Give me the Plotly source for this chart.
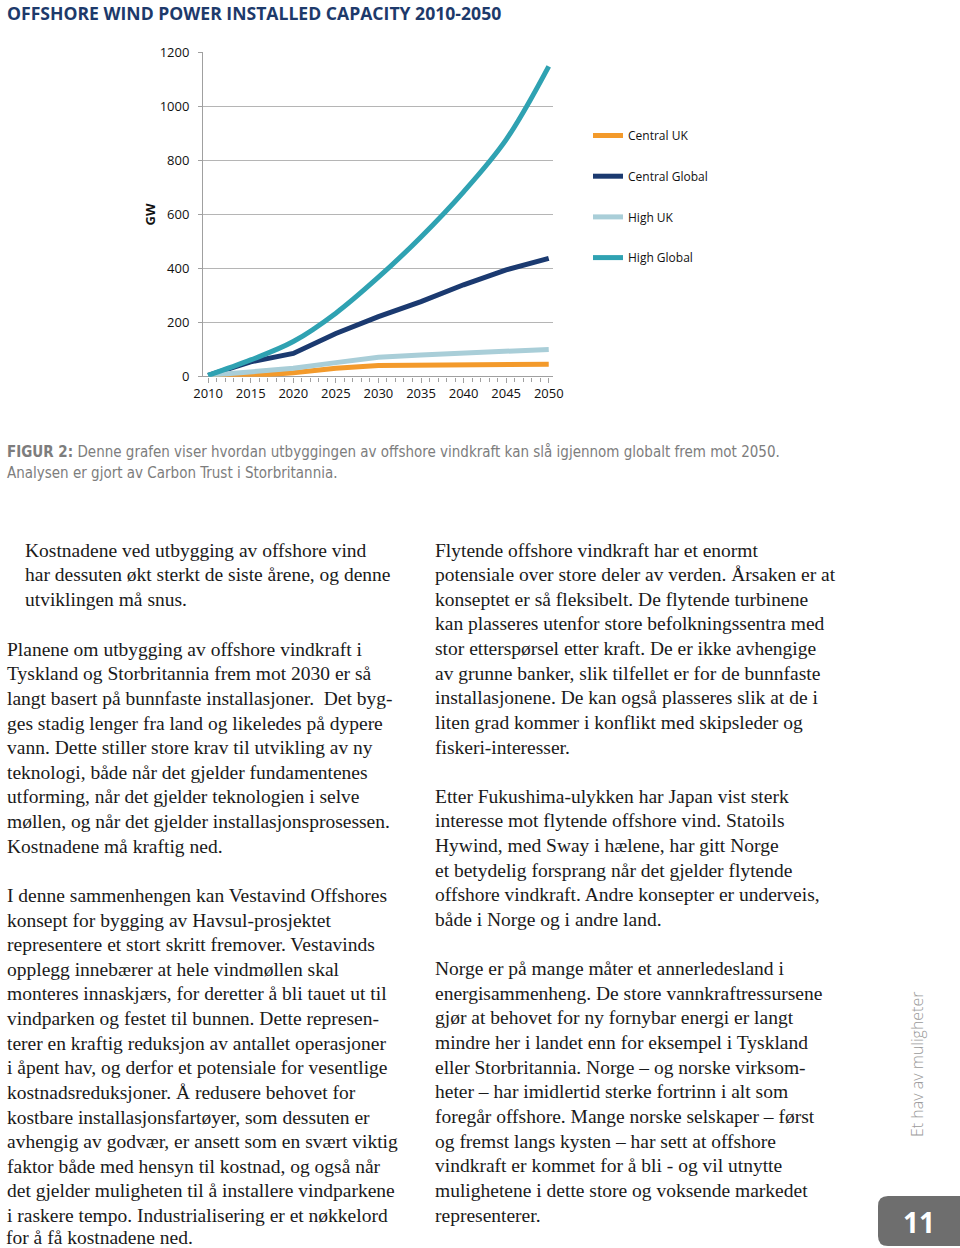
import plotly.graph_objects as go

W, H = 960, 1248

# chart data (GW)
years = [2010, 2015, 2020, 2025, 2030, 2035, 2040, 2045, 2050]
central_uk = [0, 3, 15, 31, 41, 42, 43, 45, 46]
central_global = [5, 55, 86, 160, 222, 278, 340, 395, 438]
high_uk = [5, 18, 31, 52, 72, 80, 86, 93, 101]
high_global = [5, 62, 130, 235, 368, 517, 684, 877, 1148]

series_names = ["Central UK", "Central Global", "High UK", "High Global"]
series_colors = ["#f39a2b", "#1b3a70", "#a9ced8", "#2fa2b2"]
series_values = [central_uk, central_global, high_uk, high_global]

title_text = "OFFSHORE WIND POWER INSTALLED CAPACITY 2010-2050"
caption_lines = [
    "<b>FIGUR 2:</b> Denne grafen viser hvordan utbyggingen av offshore vindkraft "
    "kan slå igjennom globalt frem mot 2050.",
    "Analysen er gjort av Carbon Trust i Storbritannia.",
]

left_par1 = [
    "Kostnadene ved utbygging av offshore vind",
    "har dessuten økt sterkt de siste årene, og denne",
    "utviklingen må snus.",
]
left_rest = [
    "",
    "Planene om utbygging av offshore vindkraft i",
    "Tyskland og Storbritannia frem mot 2030 er så",
    "langt basert på bunnfaste installasjoner.  Det byg-",
    "ges stadig lenger fra land og likeledes på dypere",
    "vann. Dette stiller store krav til utvikling av ny",
    "teknologi, både når det gjelder fundamentenes",
    "utforming, når det gjelder teknologien i selve",
    "møllen, og når det gjelder installasjonsprosessen.",
    "Kostnadene må kraftig ned.",
    "",
    "I denne sammenhengen kan Vestavind Offshores",
    "konsept for bygging av Havsul-prosjektet",
    "representere et stort skritt fremover. Vestavinds",
    "opplegg innebærer at hele vindmøllen skal",
    "monteres innaskjærs, for deretter å bli tauet ut til",
    "vindparken og festet til bunnen. Dette represen-",
    "terer en kraftig reduksjon av antallet operasjoner",
    "i åpent hav, og derfor et potensiale for vesentlige",
    "kostnadsreduksjoner. Å redusere behovet for",
    "kostbare installasjonsfartøyer, som dessuten er",
    "avhengig av godvær, er ansett som en svært viktig",
    "faktor både med hensyn til kostnad, og også når",
    "det gjelder muligheten til å installere vindparkene",
    "i raskere tempo. Industrialisering er et nøkkelord",
    "for å få kostnadene ned.",
]
right_col = [
    "Flytende offshore vindkraft har et enormt",
    "potensiale over store deler av verden. Årsaken er at",
    "konseptet er så fleksibelt. De flytende turbinene",
    "kan plasseres utenfor store befolkningssentra med",
    "stor etterspørsel etter kraft. De er ikke avhengige",
    "av grunne banker, slik tilfellet er for de bunnfaste",
    "installasjonene. De kan også plasseres slik at de i",
    "liten grad kommer i konflikt med skipsleder og",
    "fiskeri-interesser.",
    "",
    "Etter Fukushima-ulykken har Japan vist sterk",
    "interesse mot flytende offshore vind. Statoils",
    "Hywind, med Sway i hælene, har gitt Norge",
    "et betydelig forsprang når det gjelder flytende",
    "offshore vindkraft. Andre konsepter er underveis,",
    "både i Norge og i andre land.",
    "",
    "Norge er på mange måter et annerledesland i",
    "energisammenheng. De store vannkraftressursene",
    "gjør at behovet for ny fornybar energi er langt",
    "mindre her i landet enn for eksempel i Tyskland",
    "eller Storbritannia. Norge – og norske virksom-",
    "heter – har imidlertid sterke fortrinn i alt som",
    "foregår offshore. Mange norske selskaper – først",
    "og fremst langs kysten – har sett at offshore",
    "vindkraft er kommet for å bli - og vil utnytte",
    "mulighetene i dette store og voksende markedet",
    "representerer.",
]


def px(x):
    return x / W


def py(y):
    return 1 - y / H


fig = go.Figure()
for i in range(len(series_names)):
    fig.add_trace(go.Scatter(
        x=years, y=series_values[i], mode="lines", name=series_names[i],
        legendgroup=series_names[i],
        line=dict(color=series_colors[i], width=5,
                  shape="spline" if series_names[i] == "High Global" else "linear"),
    ))

axis_font = dict(family="Open Sans, Arial, sans-serif", size=13, color="#111111")
serif = dict(family="Liberation Serif, Times New Roman, serif", size=19.5, color="#1a1a1a")

fig.update_layout(
    width=W, height=H,
    margin=dict(l=0, r=0, t=0, b=0, autoexpand=False),
    paper_bgcolor="white", plot_bgcolor="white",
    showlegend=True,
    legend=dict(x=px(588), y=py(121), xanchor="left", yanchor="top",
                font=dict(family="Open Sans, Arial, sans-serif", size=12, color="#111111"),
                tracegroupgap=21.7, itemwidth=30, bgcolor="rgba(0,0,0,0)"),
    xaxis=dict(domain=[px(203), px(553)], range=[2009.4, 2050.5],
               tickvals=years, ticks="outside", ticklen=5, tickcolor="#a0a0a0",
               minor=dict(dtick=1, ticks="outside", ticklen=4, tickcolor="#a0a0a0"),
               showgrid=False, zeroline=False, showline=False,
               tickfont=axis_font, automargin=False),
    yaxis=dict(domain=[py(376.7), py(52.3)], range=[0, 1200], dtick=200,
               ticks="outside", ticklen=4, tickcolor="#a0a0a0",
               showgrid=True, gridcolor="#b5b5b5", gridwidth=1,
               zeroline=True, zerolinecolor="#a0a0a0", zerolinewidth=1,
               showline=True, linecolor="#a0a0a0", linewidth=1,
               tickfont=axis_font, ticklabelstandoff=6, automargin=False,
               title=dict(text="<b>GW</b>", font=axis_font, standoff=1)),
)

ann = []
ann.append(dict(text="<b>" + title_text + "</b>", x=px(6), y=py(0), xanchor="left", yanchor="top",
                borderpad=0,
                font=dict(family="Open Sans, Arial, sans-serif", size=17.6, color="#1d3a6b")))
cap_font = dict(family="Liberation Sans Narrow, DejaVu Sans Condensed, Roboto Condensed, sans-serif",
                size=15, color="#7d7d7d")
for i, line in enumerate(caption_lines):
    ann.append(dict(text=line, x=px(5), y=py(452 + 21 * i), xanchor="left", yanchor="middle",
                    font=cap_font))

line_step = 24.63
for i, line in enumerate(left_par1):
    ann.append(dict(text=line, x=px(23), y=py(550 + line_step * i), xanchor="left", yanchor="middle",
                    font=serif))
for i, line in enumerate(left_rest):
    if line:
        ann.append(dict(text=line, x=px(5), y=py(624.5 + line_step * i), xanchor="left",
                        yanchor="middle", font=serif))
# last line sits on the page edge: tighten its box so it stays inside
ann[-1].update(y=py(1237), borderpad=0)
for i, line in enumerate(right_col):
    if line:
        ann.append(dict(text=line, x=px(433), y=py(550 + line_step * i), xanchor="left",
                        yanchor="middle", font=serif))

ann.append(dict(text="Et hav av muligheter", x=px(917), y=py(1065), textangle=-90,
                xanchor="center", yanchor="middle",
                font=dict(family="Open Sans, Arial, sans-serif", size=16, color="#9a9a9a", weight=300)))
ann.append(dict(text="<b>11</b>", x=px(919), y=py(1222), xanchor="center", yanchor="middle",
                font=dict(family="Open Sans, Arial, sans-serif", size=28, color="white")))
for a in ann:
    a.update(xref="paper", yref="paper", showarrow=False)
fig.update_layout(annotations=ann)

# page number tab
x0, x1, y0, y1, r = px(878), px(965), py(1196), py(1246), 10
rx, ry = r / W, r / H
path = (f"M {x0 + rx},{y0} L {x1},{y0} L {x1},{y1} L {x0 + rx},{y1} "
        f"Q {x0},{y1} {x0},{y1 + ry} L {x0},{y0 - ry} Q {x0},{y0} {x0 + rx},{y0} Z")
fig.add_shape(type="path", path=path, xref="paper", yref="paper",
              fillcolor="#6e6e6e", line=dict(width=0), layer="below")

# the figure fills the whole window, so drop the default page margin
fig.write_html("out.html", config={"displayModeBar": False},
               post_script="document.body.style.margin='0';")
